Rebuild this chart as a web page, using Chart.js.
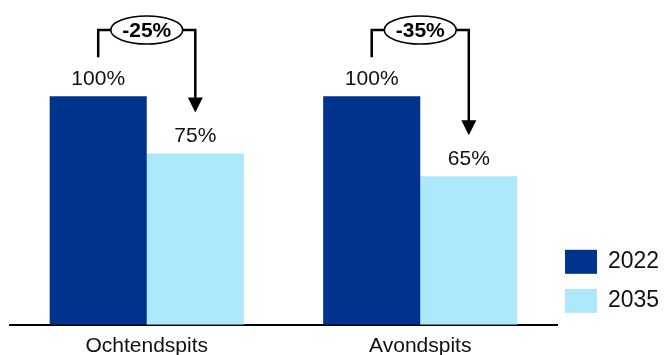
<!DOCTYPE html>
<html>
<head>
<meta charset="utf-8">
<script src="https://cdn.jsdelivr.net/npm/chart.js@4"></script>
<style>
  html, body { margin: 0; padding: 0; background: #ffffff; }
  #wrap { width: 664px; height: 355px; }
</style>
</head>
<body>
<div id="wrap"><canvas id="c" width="664" height="355"></canvas></div>
<script>
// Peak periods and the share of traffic relative to 2022
const categories = ['Ochtendspits', 'Avondspits'];
const seriesNames = ['2022', '2035'];
const values2022 = [100, 100];
const values2035 = [75, 65];
const changeLabels = ['-25%', '-35%'];

const colors = ['#00338d', '#ade8fc'];
const FONT = '"Liberation Sans", Arial, Helvetica, sans-serif';

// Value labels, change brackets with arrows, and the legend
const overlay = {
  id: 'overlay',
  afterDatasetsDraw(chart) {
    const ctx = chart.ctx;
    const area = chart.chartArea;
    const m0 = chart.getDatasetMeta(0).data;
    const m1 = chart.getDatasetMeta(1).data;
    ctx.save();

    // value labels above every bar
    ctx.fillStyle = '#111111';
    ctx.font = '21px ' + FONT;
    ctx.textAlign = 'center';
    ctx.textBaseline = 'middle';
    chart.data.datasets.forEach((ds, di) => {
      chart.getDatasetMeta(di).data.forEach((el, i) => {
        ctx.fillText(ds.data[i] + '%', el.x, el.y - 17);
      });
    });

    // change brackets
    const yb = area.top + 25;
    const rx = 36, ry = 14;
    categories.forEach((c, i) => {
      const a = m0[i], b = m1[i];
      const cx = (a.x + b.x) / 2;
      const tipY = b.y - 41;
      const head = 15;
      ctx.strokeStyle = '#000000';
      ctx.lineWidth = 2.5;
      ctx.lineJoin = 'miter';
      ctx.beginPath();
      ctx.moveTo(a.x, a.y - 39);
      ctx.lineTo(a.x, yb);
      ctx.lineTo(cx - rx, yb);
      ctx.moveTo(cx + rx, yb);
      ctx.lineTo(b.x, yb);
      ctx.lineTo(b.x, tipY - head + 1);
      ctx.stroke();
      ctx.fillStyle = '#000000';
      ctx.beginPath();
      ctx.moveTo(b.x - 7.5, tipY - head);
      ctx.lineTo(b.x + 7.5, tipY - head);
      ctx.lineTo(b.x, tipY);
      ctx.closePath();
      ctx.fill();
      ctx.lineWidth = 1.6;
      ctx.beginPath();
      ctx.ellipse(cx, yb, rx, ry, 0, 0, Math.PI * 2);
      ctx.fillStyle = '#ffffff';
      ctx.fill();
      ctx.stroke();
      ctx.fillStyle = '#000000';
      ctx.font = 'bold 21px ' + FONT;
      ctx.fillText(changeLabels[i], cx, yb + 1);
    });

    // legend
    const lx = area.right + 8;
    ctx.font = '23px ' + FONT;
    ctx.textAlign = 'left';
    seriesNames.forEach((name, i) => {
      const top = area.bottom - 75 + i * 39;
      ctx.fillStyle = colors[i];
      ctx.fillRect(lx, top, 32, 24);
      ctx.fillStyle = '#111111';
      ctx.fillText(name, lx + 43, top + 12);
    });
    ctx.restore();
  }
};

new Chart(document.getElementById('c'), {
  type: 'bar',
  data: {
    labels: categories,
    datasets: [
      { label: seriesNames[0], data: values2022, backgroundColor: colors[0] },
      { label: seriesNames[1], data: values2035, backgroundColor: colors[1] }
    ]
  },
  options: {
    responsive: false,
    animation: false,
    events: [],
    categoryPercentage: 0.71,
    barPercentage: 1.0,
    layout: { padding: { left: 10, right: 107, top: 5, bottom: -13 } },
    plugins: { legend: { display: false }, tooltip: { enabled: false } },
    scales: {
      x: {
        grid: { display: false, drawTicks: false },
        border: { display: true, color: '#000000', width: 2 },
        ticks: { color: '#111111', font: { family: FONT, size: 21 }, padding: 9 }
      },
      y: {
        display: false,
        min: 0,
        max: 140
      }
    }
  },
  plugins: [overlay]
});
</script>
</body>
</html>
